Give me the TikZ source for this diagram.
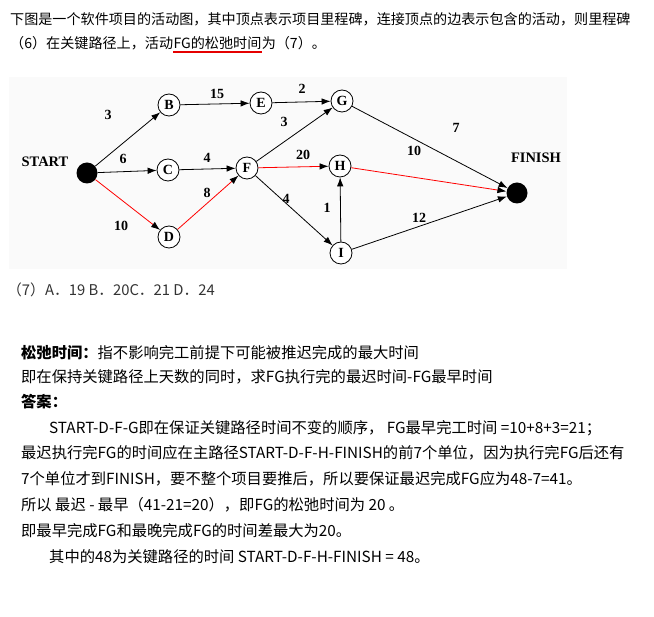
\documentclass[tikz,border=0pt]{standalone}
\usepackage{fontspec}
\setmainfont{Liberation Serif}
\newfontfamily\cjk{Noto Sans CJK SC}
\usetikzlibrary{arrows.meta}

\begin{document}
\begin{tikzpicture}[x=1pt,y=-1pt,
    milestone/.style={draw,circle,fill=white,line width=0.8pt,minimum size=22pt,
        inner sep=0pt,font=\fontsize{14}{14}\selectfont\bfseries},
    terminal/.style={circle,fill=black,minimum size=21pt,inner sep=0pt},
    act/.style={draw=black,line width=0.8pt,-{Latex[length=9pt,width=6.5pt]}},
    crit/.style={draw=red,line width=0.8pt,-{Latex[length=9pt,width=6.5pt,color=black]}},
    wt/.style={font=\fontsize{14}{14}\selectfont\bfseries},
    para/.style={anchor=west,inner sep=0pt,font=\cjk\fontsize{15.3}{15.3}\selectfont},
    headline/.style={para,font=\cjk\fontsize{14.1}{14.1}\selectfont}]
\useasboundingbox (0,0) rectangle (654,617);

% question
\node[headline] (q1) at (10,19)
    {下图是一个软件项目的活动图，其中顶点表示项目里程碑，连接顶点的边表示包含的活动，则里程碑};
\node[headline] (q2a) at (10,43) {（6）在关键路径上，活动};
\node[headline,anchor=base west] (q2b) at (q2a.base east) {FG的松弛时间};
\node[headline,anchor=base west] (q2c) at (q2b.base east) {为（7）。};
\draw[red!90!black,line width=2pt] ([yshift=-2pt]q2b.south west) -- ([yshift=-2pt]q2b.south east);

% network
\fill[black!2] (9,77) rectangle (567,269);

\node[terminal] (start) at (87,173) {};
\node[terminal] (finish) at (517,193) {};
\node[wt,font=\fontsize{14.5}{14.5}\selectfont\bfseries] (startlbl) at (45,162) {START};
\node[wt,font=\fontsize{14.5}{14.5}\selectfont\bfseries] (finishlbl) at (536,158) {FINISH};

\node[milestone] (B) at (169,105) {B};
\node[milestone] (E) at (261,103) {E};
\node[milestone] (G) at (342,101) {G};
\node[milestone] (C) at (168,170) {C};
\node[milestone] (F) at (247,168) {F};
\node[milestone] (H) at (340,166) {H};
\node[milestone] (D) at (169,237) {D};
\node[milestone] (I) at (341,253) {I};

\draw[act] (start) -- (B);
\draw[act] (start) -- (C);
\draw[crit] (start) -- (D);
\draw[act] (B) -- (E);
\draw[act] (E) -- (G);
\draw[act] (C) -- (F);
\draw[crit] (D) -- (F);
\draw[act] (F) -- (G);
\draw[crit] (F) -- (H);
\draw[act] (F) -- (I);
\draw[act] (I) -- (H);
\draw[act] (G) -- (finish);
\draw[crit] (H) -- (finish);
\draw[act] (I) -- (finish);

\node[wt] (wSB) at (108,115) {3};
\node[wt] (wSC) at (123,159) {6};
\node[wt] (wSD) at (121,226) {10};
\node[wt] (wBE) at (217,94) {15};
\node[wt] (wEG) at (302,89) {2};
\node[wt] (wCF) at (207,158) {4};
\node[wt] (wDF) at (207,193) {8};
\node[wt] (wFG) at (284,122) {3};
\node[wt] (wFH) at (303,155) {20};
\node[wt] (wFI) at (286,199) {4};
\node[wt] (wIH) at (327,208) {1};
\node[wt] (wGT) at (456,128) {7};
\node[wt] (wHT) at (414,151) {10};
\node[wt] (wIT) at (419,218) {12};

% choices
\node[para,font=\cjk\fontsize{14.8}{14.8}\selectfont,text=black!80] (opt) at (7,290)
    {（7）A．19 B．20C．21 D．24};

% answer
\node[para] (a1) at (21,353) {{\bfseries 松弛时间：}指不影响完工前提下可能被推迟完成的最大时间};
\node[para] (a2) at (21,377) {即在保持关键路径上天数的同时，求FG执行完的最迟时间-FG最早时间};
\node[para] (a3) at (21,402) {\bfseries 答案：};
\node[para] (a4) at (49,428) {START-D-F-G即在保证关键路径时间不变的顺序， FG最早完工时间 =10+8+3=21；};
\node[para] (a5) at (21,453) {最迟执行完FG的时间应在主路径START-D-F-H-FINISH的前7个单位，因为执行完FG后还有};
\node[para] (a6) at (21,479) {7个单位才到FINISH，要不整个项目要推后，所以要保证最迟完成FG应为48-7=41。};
\node[para] (a7) at (21,505) {所以 最迟 - 最早（41-21=20），即FG的松弛时间为 20 。};
\node[para] (a8) at (21,531) {即最早完成FG和最晚完成FG的时间差最大为20。};
\node[para] (a9) at (49,557) {其中的48为关键路径的时间 START-D-F-H-FINISH = 48。};
\end{tikzpicture}
\end{document}
